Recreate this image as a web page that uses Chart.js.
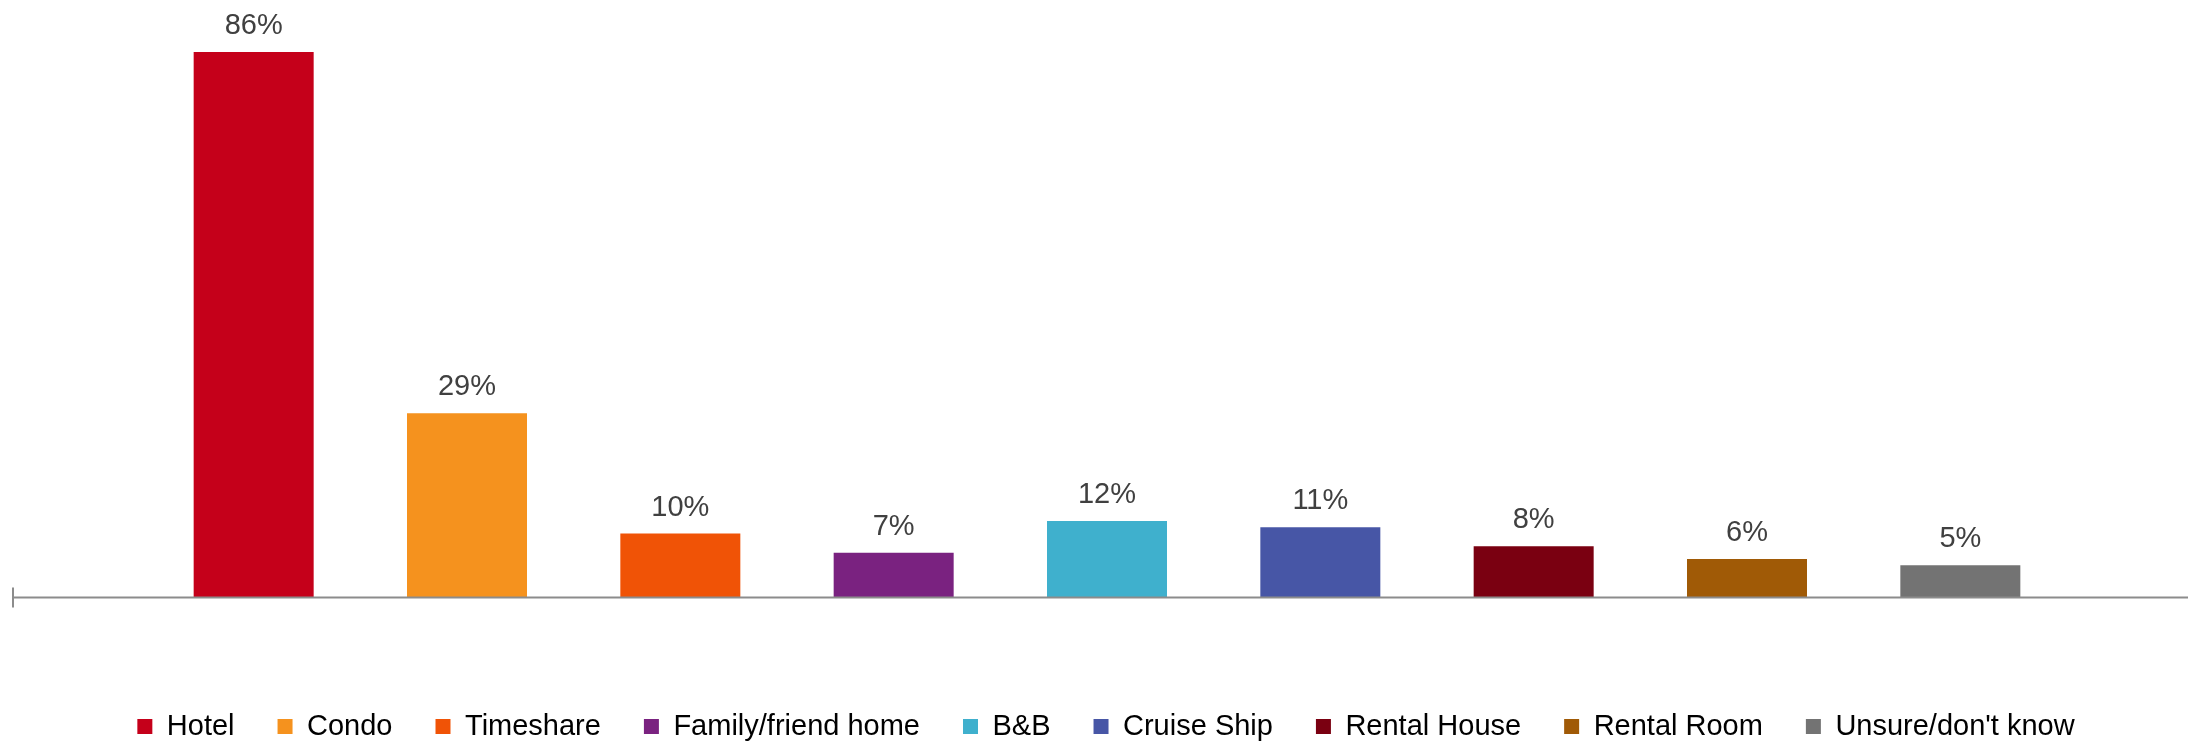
<!DOCTYPE html>
<html>
<head>
<meta charset="utf-8">
<title>Accommodation type</title>
<script src="https://cdn.jsdelivr.net/npm/chart.js@4.4.1/dist/chart.umd.min.js"></script>
<style>
  html, body { margin: 0; padding: 0; background: #ffffff; }
  #wrap { width: 2188px; height: 743px; position: relative; }
</style>
</head>
<body>
<div id="wrap"><canvas id="myChart"></canvas></div>
<script>
const categories = ["Hotel", "Condo", "Timeshare", "Family/friend home", "B&B",
  "Cruise Ship", "Rental House", "Rental Room", "Unsure/don't know"];
const shares = [86, 29, 10, 7, 12, 11, 8, 6, 5];
const barColors = ["#C5001A", "#F5921E", "#F05306", "#7A2280", "#3FB0CD",
  "#4756A6", "#7A0011", "#A05A06", "#737373"];

const FONT = "'Liberation Sans', Arial, sans-serif";
const TEXT = "#404040";

// value labels above bars
const valueLabels = {
  id: "valueLabels",
  afterDatasetsDraw(chart) {
    const ctx = chart.ctx;
    const meta = chart.getDatasetMeta(0);
    ctx.save();
    ctx.font = "29px " + FONT;
    ctx.fillStyle = TEXT;
    ctx.textAlign = "center";
    ctx.textBaseline = "alphabetic";
    meta.data.forEach((bar, i) => {
      ctx.fillText(shares[i] + "%", bar.x, bar.y - 18);
    });
    ctx.restore();
  }
};

// baseline running the full width, with the small tick on the left
const baseLine = {
  id: "baseLine",
  afterDatasetsDraw(chart) {
    const ctx = chart.ctx;
    const y = Math.round(chart.scales.y.getPixelForValue(0)) + 0.5;
    ctx.save();
    ctx.strokeStyle = "#8C8C8C";
    ctx.lineWidth = 2;
    ctx.beginPath();
    ctx.moveTo(13, y);
    ctx.lineTo(chart.width, y);
    ctx.moveTo(13, y - 10);
    ctx.lineTo(13, y + 10);
    ctx.stroke();
    ctx.restore();
  }
};

// invisible axes just hold space around the plot
const blankAxis = (size) => ({
  grid: { display: false },
  border: { display: false },
  ticks: { display: false },
  afterFit(scale) {
    if (scale.isHorizontal()) scale.height = size; else scale.width = size;
  }
});

new Chart(document.getElementById("myChart"), {
  type: "bar",
  data: {
    labels: categories,
    datasets: [{
      data: shares,
      backgroundColor: barColors,
      borderWidth: 0,
      barPercentage: 0.5625,
      categoryPercentage: 1
    }]
  },
  options: {
    responsive: true,
    maintainAspectRatio: false,
    animation: false,
    layout: { padding: { left: 24, right: 0, top: 0, bottom: -8 } },
    scales: {
      x: blankAxis(72),
      y: Object.assign(blankAxis(123), { min: 0, max: 94.2 }),
      yRight: Object.assign(blankAxis(121), { position: "right", min: 0, max: 1 })
    },
    plugins: {
      tooltip: { enabled: false },
      legend: {
        position: "bottom",
        labels: {
          font: { family: FONT, size: 29 },
          color: TEXT,
          boxWidth: 15,
          boxHeight: 15,
          padding: 43,
          generateLabels() {
            return categories.map((c, i) => ({
              text: c,
              fillStyle: barColors[i],
              strokeStyle: barColors[i],
              lineWidth: 0,
              hidden: false,
              index: i
            }));
          }
        }
      }
    }
  },
  plugins: [valueLabels, baseLine]
});
</script>
</body>
</html>
